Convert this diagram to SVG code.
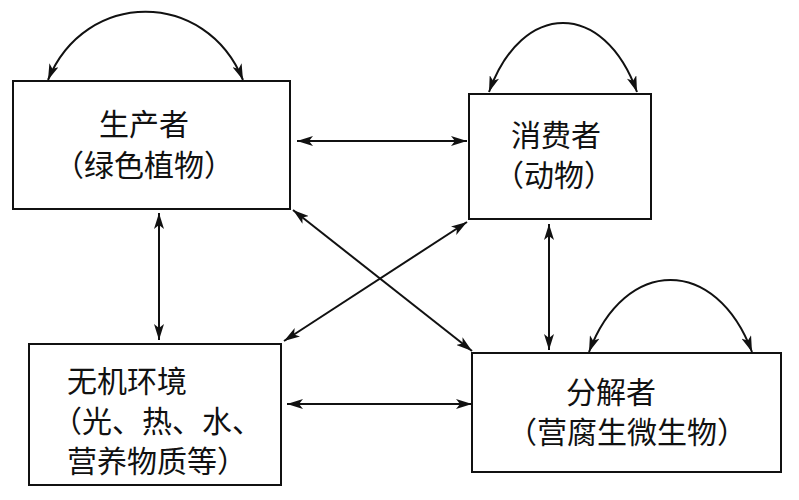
<svg xmlns="http://www.w3.org/2000/svg" width="799" height="500" viewBox="0 0 799 500">
<style>
.box{fill:#fff;stroke:#111;stroke-width:2}
.lbl{font-family:"Noto Sans CJK SC","Noto Sans",sans-serif;font-size:30px;fill:#111}
.mid{text-anchor:middle}
.con{fill:none;stroke:#111;stroke-width:2;marker-start:url(#ah);marker-end:url(#ah)}
</style>
<defs>
<marker id="ah" viewBox="0 0 16 10" refX="16" refY="5" markerWidth="16" markerHeight="10" markerUnits="userSpaceOnUse" orient="auto-start-reverse">
<path d="M0,0 L16,5 L0,10 L4,5 z" fill="#111"/>
</marker>
</defs>
<rect width="799" height="500" fill="#fff"/>
<g id="producer">
<rect class="box" x="13" y="81" width="277" height="128"/>
<text class="lbl mid" x="144" y="135">生产者</text>
<text class="lbl mid" x="144" y="176">（绿色植物）</text>
</g>
<g id="consumer">
<rect class="box" x="469" y="94" width="182" height="125"/>
<text class="lbl mid" x="556" y="146">消费者</text>
<text class="lbl mid" x="554" y="186">（动物）</text>
</g>
<g id="environment">
<rect class="box" x="29" y="344" width="252" height="141"/>
<text class="lbl" x="67" y="392">无机环境</text>
<text class="lbl" x="52" y="432">（光、热、水、</text>
<text class="lbl" x="67" y="472">营养物质等）</text>
</g>
<g id="decomposer">
<rect class="box" x="472" y="353" width="309" height="119"/>
<text class="lbl mid" x="611" y="403">分解者</text>
<text class="lbl mid" x="627" y="443">（营腐生微生物）</text>
</g>
<g id="connectors">
<path class="con" d="M48,80 C85,-11 206,-11 243,80"/>
<path class="con" d="M489,92 C522,0 604,0 637,92"/>
<path class="con" d="M589,352 C625,256 716,256 752,352"/>
<path class="con" d="M297,141 L467,141"/>
<path class="con" d="M159,213 L159,340"/>
<path class="con" d="M549,224 L549,350"/>
<path class="con" d="M287,404 L472,404"/>
<path class="con" d="M293,210 L472,351"/>
<path class="con" d="M467,222 L284,341"/>
</g>
</svg>
